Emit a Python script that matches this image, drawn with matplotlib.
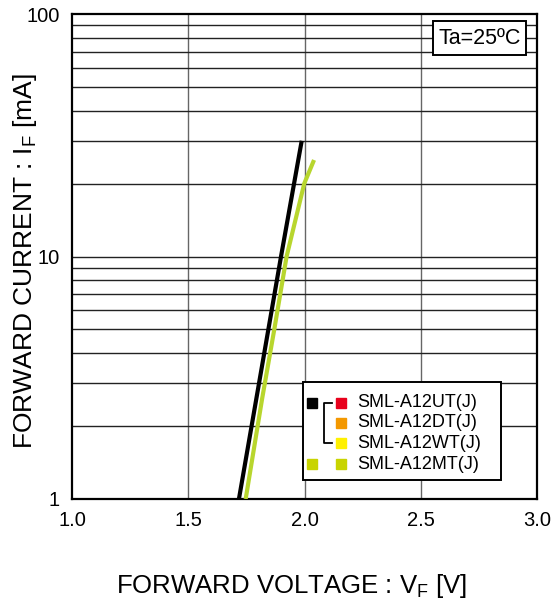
import matplotlib
matplotlib.use('Agg')
import matplotlib.pyplot as plt
from matplotlib.patches import Rectangle
from matplotlib.ticker import FixedLocator, NullFormatter

plt.rcParams['font.family'] = ['Liberation Sans', 'DejaVu Sans']

# forward voltage (V) vs forward current (mA)
vf_black = [1.718, 1.899, 1.988]
if_black = [1.0, 10.0, 30.0]
vf_green = [1.747, 1.818, 1.870, 1.923, 1.999, 2.041]
if_green = [1.0, 2.6, 5.0, 10.0, 20.0, 25.0]

x_ticks = [1.0, 1.5, 2.0, 2.5, 3.0]
x_ticklabels = ['1.0', '1.5', '2.0', '2.5', '3.0']
y_ticks = [1, 10, 100]
y_minor = [2, 3, 4, 5, 6, 7, 8, 9, 20, 30, 40, 50, 60, 70, 80, 90]

legend_names = ['SML-A12UT(J)', 'SML-A12DT(J)', 'SML-A12WT(J)', 'SML-A12MT(J)']
legend_colors = ['#e8001c', '#f39800', '#fff000', '#c8d400']

green = '#b8d62e'

fig = plt.figure(figsize=(5.51, 6.05), dpi=100)
ax = fig.add_axes([72/551, 1 - 499/605, 465/551, 485/605])

ax.plot(vf_black, if_black, color='black', lw=3.0, solid_capstyle='butt', zorder=3)
ax.plot(vf_green, if_green, color=green, lw=3.0, solid_capstyle='butt', zorder=3)

ax.set_yscale('log')
ax.set_xlim(1.0, 3.0)
ax.set_ylim(1, 100)
ax.set_xticks(x_ticks)
ax.set_xticklabels(x_ticklabels)
ax.yaxis.set_major_locator(FixedLocator(y_ticks))
ax.set_yticklabels([str(v) for v in y_ticks])
ax.yaxis.set_minor_locator(FixedLocator(y_minor))
ax.yaxis.set_minor_formatter(NullFormatter())
ax.tick_params(which='both', length=0, labelsize=14.5, pad=9)

for v in x_ticks[1:-1]:
    ax.axvline(v, color='#666666', lw=1.0, zorder=1)
for v in y_minor + [10]:
    ax.axhline(v, color='#222222', lw=1.0, zorder=1)

for s in ax.spines.values():
    s.set_linewidth(1.6)

ax.set_xlabel('FORWARD VOLTAGE : V$_\\mathregular{F}$ [V]', fontsize=18.5, va='center')
ax.set_ylabel('FORWARD CURRENT : I$_\\mathregular{F}$ [mA]', fontsize=19, va='center')
ax.xaxis.set_label_coords((291.5 - 72) / 465, (499 - 586) / 485)
ax.yaxis.set_label_coords((25 - 72) / 465, (499 - 261) / 485)

# Ta box
ax.add_patch(Rectangle((0.776, 0.915), 0.200, 0.071, transform=ax.transAxes,
                       facecolor='white', edgecolor='black', lw=1.4, zorder=5))
ax.text(0.876, 0.949, 'Ta=25ºC', transform=ax.transAxes, ha='center', va='center',
        fontsize=15.5, zorder=6)

# legend
ax.add_patch(Rectangle((0.497, 0.039), 0.426, 0.202, transform=ax.transAxes,
                       facecolor='white', edgecolor='black', lw=1.4, zorder=5))
rows = [0.198, 0.157, 0.115, 0.072]
for y, name, c in zip(rows, legend_names, legend_colors):
    ax.plot(0.578, y, marker='s', ms=7.5, color=c, transform=ax.transAxes,
            clip_on=False, zorder=6)
    ax.text(0.613, y, name, transform=ax.transAxes, ha='left', va='center',
            fontsize=13, zorder=6)
ax.plot(0.516, rows[0], marker='s', ms=7.5, color='black', transform=ax.transAxes, zorder=6)
ax.plot(0.516, rows[3], marker='s', ms=7.5, color=legend_colors[3], transform=ax.transAxes, zorder=6)
ax.plot([0.559, 0.542, 0.542, 0.559], [rows[0], rows[0], rows[2], rows[2]],
        color='black', lw=1.3, transform=ax.transAxes, zorder=6)

fig.savefig('out.png', dpi=100)
